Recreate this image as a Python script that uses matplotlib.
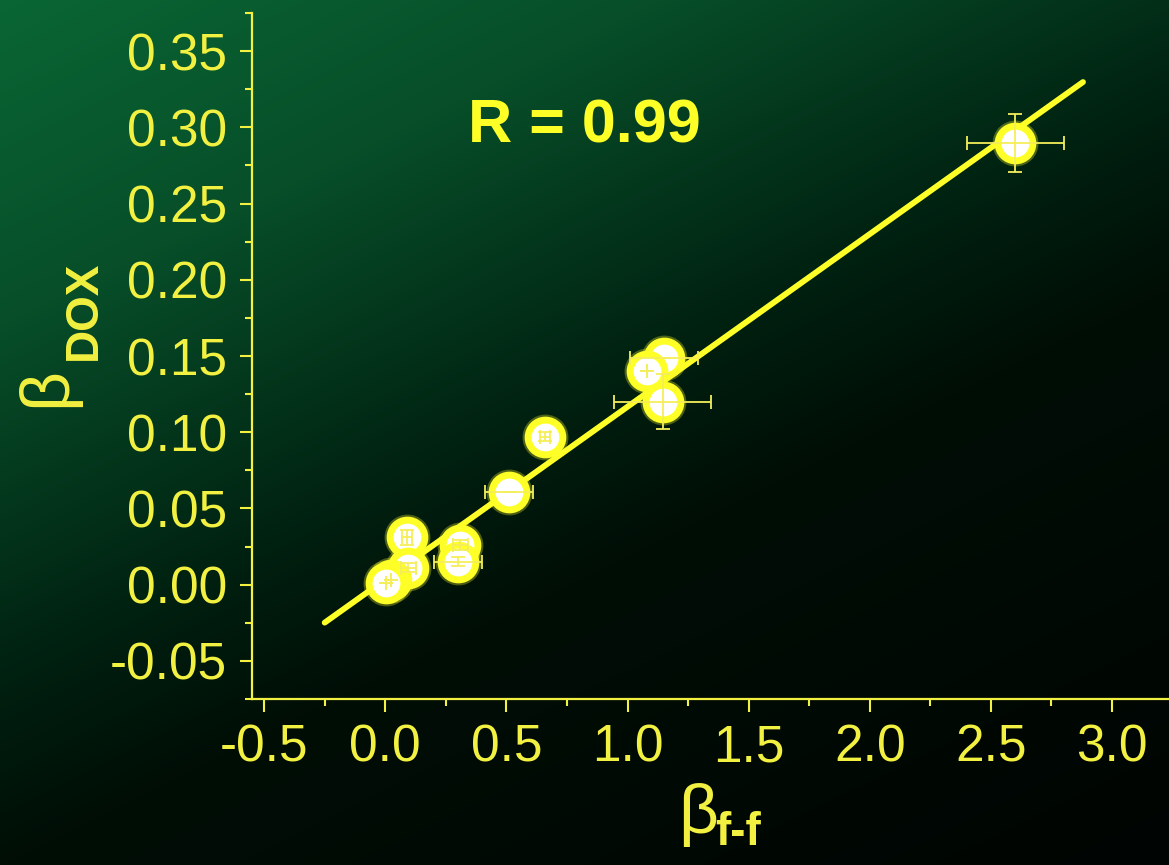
import numpy as np
import matplotlib
matplotlib.use("Agg")
import matplotlib.pyplot as plt
from matplotlib.ticker import MultipleLocator, FormatStrFormatter

# measured points: beta f-f vs beta DOX, with errors
beta_ff = [2.60, 1.15, 1.08, 1.145, 0.66, 0.51, 0.31, 0.30, 0.09, 0.095, 0.025, 0.005]
beta_dox = [0.290, 0.149, 0.140, 0.120, 0.097, 0.061, 0.026, 0.015, 0.031, 0.011, 0.003, 0.001]
err_ff = [0.20, 0.14, 0.0, 0.20, 0.02, 0.10, 0.03, 0.10, 0.02, 0.03, 0.0, 0.0]
err_dox = [0.019, 0.0, 0.0, 0.018, 0.003, 0.0, 0.003, 0.003, 0.005, 0.003, 0.0, 0.0]
fit_range = [-0.25, 2.88]
r_text = "R = 0.99"

yellow = "#f2f040"
bright = "#ffff28"

plt.rcParams["font.family"] = ["Liberation Sans", "DejaVu Sans"]
plt.rcParams["axes.unicode_minus"] = False

W, H = 1169, 865
fig = plt.figure(figsize=(W / 100, H / 100), dpi=100)

# dark green background, bright at the top left and fading to black
bg = fig.add_axes([0, 0, 1, 1], zorder=-10)
yy, xx = np.mgrid[0:1:H * 1j, 0:1:W * 1j]
t = 0.6 * xx + 0.9 * yy
stops = [0.0, 0.34, 0.73, 0.9, 1.5]
r = np.interp(t, stops, [10, 7, 0, 0, 0])
g = np.interp(t, stops, [102, 78, 30, 14, 4])
b = np.interp(t, stops, [52, 41, 15, 6, 2])
img = np.dstack([r, g, b]) / 255.0
bg.imshow(img, aspect="auto", extent=[0, 1, 0, 1], origin="upper")
bg.axis("off")

ax = fig.add_axes([252 / W, 1 - 699 / H, 1 - 252 / W, (699 - 13) / H])
ax.patch.set_alpha(0)

# linear fit
k, c = np.polyfit(beta_ff, beta_dox, 1)
xf = np.array(fit_range)
ax.plot(xf, k * xf + c, color=bright, lw=4.2, zorder=2, solid_capstyle="round")

# soft halo, then the white points with thick yellow rims
ax.plot(beta_ff, beta_dox, "o", ms=33, color=bright, alpha=0.3, mec="none", zorder=3)
ax.plot(beta_ff, beta_dox, "o", ms=25, mfc="white", mec=bright, mew=5, zorder=4)
ax.errorbar(beta_ff, beta_dox, xerr=err_ff, yerr=err_dox, fmt="none",
            ecolor="#f4ee5a", elinewidth=1.3, capsize=5, capthick=1.3, zorder=5)

ax.text(0.82, 0.300, r_text, color=bright, fontsize=44, fontweight="bold",
        ha="center", va="center")

ax.set_xlim(-0.55, 3.235)
ax.set_ylim(-0.075, 0.375)
ax.xaxis.set_major_locator(MultipleLocator(0.5))
ax.xaxis.set_minor_locator(MultipleLocator(0.25))
ax.yaxis.set_major_locator(MultipleLocator(0.05))
ax.yaxis.set_minor_locator(MultipleLocator(0.025))
ax.xaxis.set_major_formatter(FormatStrFormatter("%.1f"))
ax.yaxis.set_major_formatter(FormatStrFormatter("%.2f"))

for s in ["top", "right"]:
    ax.spines[s].set_visible(False)
for s in ["left", "bottom"]:
    ax.spines[s].set_color(yellow)
    ax.spines[s].set_linewidth(1.6)
ax.tick_params(which="major", direction="out", length=9, width=1.5,
               color=yellow, labelcolor=yellow, labelsize=37, pad=9)
ax.tick_params(which="minor", direction="out", length=5, width=1.5, color=yellow)

# axis labels: beta with a bold subscript
def px(x, y):
    return x / W, 1 - y / H

fig.text(*px(65, 407), "\u03b2", rotation=90, rotation_mode="anchor",
         color=yellow, fontsize=50, ha="left", va="baseline")
fig.text(*px(96, 360), "DOX", rotation=90, rotation_mode="anchor",
         color=yellow, fontsize=33, fontweight="bold", ha="left", va="baseline")
fig.text(*px(678, 833), "\u03b2", color=yellow, fontsize=50, ha="left", va="baseline")
fig.text(*px(715, 855), "f-f", color=yellow, fontsize=33, fontweight="bold",
         ha="left", va="bottom")

fig.savefig("out.png", dpi=100)
